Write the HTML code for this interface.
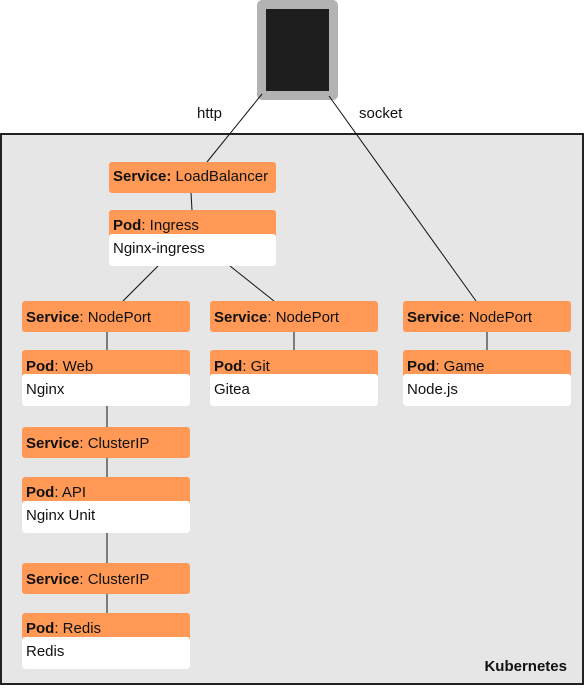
<!DOCTYPE html>
<html><head><meta charset="utf-8"><style>
html,body{margin:0;padding:0;background:#fff;}
svg text{font-family:"Liberation Sans",sans-serif;font-size:15px;fill:#111;}
</style></head><body>
<svg width="585" height="686" viewBox="0 0 585 686" xmlns="http://www.w3.org/2000/svg">
<rect x="1" y="134" width="582" height="550" fill="#e6e6e6" stroke="#222" stroke-width="2"/>
<rect x="257" y="0" width="81" height="100" rx="5" fill="#b3b3b3"/>
<rect x="266" y="9" width="63" height="82" fill="#1e1e1e"/>
<g stroke="#111" stroke-width="1" fill="none">
<line x1="262" y1="94" x2="207" y2="162"/>
<line x1="329" y1="96" x2="476" y2="301"/>
<line x1="191" y1="193" x2="192" y2="210"/>
<line x1="158" y1="266" x2="123" y2="301"/>
<line x1="230" y1="266" x2="274" y2="301"/>
<line x1="107" y1="332" x2="107" y2="350"/>
<line x1="107" y1="406" x2="107" y2="427"/>
<line x1="107" y1="458" x2="107" y2="477"/>
<line x1="107" y1="533" x2="107" y2="563"/>
<line x1="107" y1="594" x2="107" y2="613"/>
<line x1="294" y1="332" x2="294" y2="350"/>
<line x1="487" y1="332" x2="487" y2="350"/>
</g>
<text x="197" y="118">http</text>
<text x="359" y="118">socket</text>
<g fill="#ff9955">
<rect x="109" y="162" width="167" height="31" rx="3"/>
<rect x="109" y="210" width="167" height="56" rx="3"/>
<rect x="22" y="301" width="168" height="31" rx="3"/>
<rect x="210" y="301" width="168" height="31" rx="3"/>
<rect x="403" y="301" width="168" height="31" rx="3"/>
<rect x="22" y="350" width="168" height="56" rx="3"/>
<rect x="210" y="350" width="168" height="56" rx="3"/>
<rect x="403" y="350" width="168" height="56" rx="3"/>
<rect x="22" y="427" width="168" height="31" rx="3"/>
<rect x="22" y="477" width="168" height="56" rx="3"/>
<rect x="22" y="563" width="168" height="31" rx="3"/>
<rect x="22" y="613" width="168" height="56" rx="3"/>
</g>
<g fill="#fff">
<rect x="109" y="234" width="167" height="32" rx="3"/>
<rect x="22" y="374" width="168" height="32" rx="3"/>
<rect x="210" y="374" width="168" height="32" rx="3"/>
<rect x="403" y="374" width="168" height="32" rx="3"/>
<rect x="22" y="501" width="168" height="32" rx="3"/>
<rect x="22" y="637" width="168" height="32" rx="3"/>
</g>
<text x="113" y="181"><tspan font-weight="bold">Service:</tspan> LoadBalancer</text>
<text x="113" y="230"><tspan font-weight="bold">Pod</tspan>: Ingress</text>
<text x="113" y="253">Nginx-ingress</text>
<text x="26" y="322"><tspan font-weight="bold">Service</tspan>: NodePort</text>
<text x="214" y="322"><tspan font-weight="bold">Service</tspan>: NodePort</text>
<text x="407" y="322"><tspan font-weight="bold">Service</tspan>: NodePort</text>
<text x="26" y="371"><tspan font-weight="bold">Pod</tspan>: Web</text>
<text x="26" y="394">Nginx</text>
<text x="214" y="371"><tspan font-weight="bold">Pod</tspan>: Git</text>
<text x="214" y="394">Gitea</text>
<text x="407" y="371"><tspan font-weight="bold">Pod</tspan>: Game</text>
<text x="407" y="394">Node.js</text>
<text x="26" y="448"><tspan font-weight="bold">Service</tspan>: ClusterIP</text>
<text x="26" y="497"><tspan font-weight="bold">Pod</tspan>: API</text>
<text x="26" y="520">Nginx Unit</text>
<text x="26" y="584"><tspan font-weight="bold">Service</tspan>: ClusterIP</text>
<text x="26" y="633"><tspan font-weight="bold">Pod</tspan>: Redis</text>
<text x="26" y="656">Redis</text>
<text x="567" y="671" text-anchor="end" font-weight="bold">Kubernetes</text>
</svg>
</body></html>
